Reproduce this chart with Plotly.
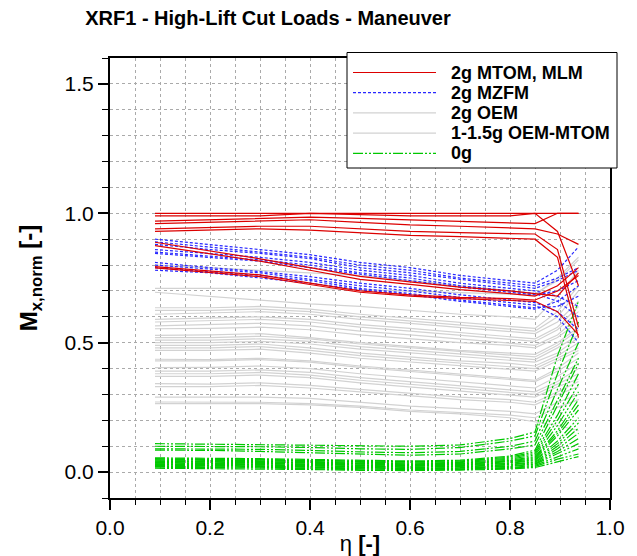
import plotly.graph_objects as go

ETA = [0.09, 0.2, 0.3, 0.4, 0.5, 0.6, 0.7, 0.8, 0.85, 0.895, 0.937]

RED_2G_MTOM = [
    [1.00, 1.00, 1.00, 1.00, 1.00, 1.00, 1.00, 1.00, 1.00, 1.00, 1.00],
    [0.99, 0.99, 0.99, 1.00, 0.995, 0.99, 0.99, 0.99, 1.00, 0.93, 0.72],
    [0.97, 0.975, 0.98, 0.985, 0.98, 0.975, 0.97, 0.965, 0.96, 1.00, 1.00],
    [0.96, 0.965, 0.97, 0.975, 0.965, 0.955, 0.95, 0.945, 0.94, 0.92, 0.88],
    [0.94, 0.945, 0.95, 0.95, 0.94, 0.93, 0.925, 0.92, 0.92, 0.86, 0.56],
    [0.93, 0.935, 0.94, 0.935, 0.925, 0.915, 0.91, 0.905, 0.90, 0.83, 0.52],
    [0.888, 0.855, 0.824, 0.79, 0.756, 0.735, 0.715, 0.70, 0.69, 0.68, 0.77],
    [0.875, 0.845, 0.815, 0.78, 0.745, 0.725, 0.705, 0.69, 0.68, 0.72, 0.79],
    [0.794, 0.778, 0.762, 0.73, 0.70, 0.685, 0.675, 0.67, 0.665, 0.70, 0.76],
    [0.789, 0.772, 0.755, 0.725, 0.695, 0.68, 0.67, 0.663, 0.66, 0.62, 0.53],
]

BLUE_2G_MZFM = [
    [0.90, 0.88, 0.86, 0.84, 0.81, 0.79, 0.76, 0.74, 0.73, 0.78, 0.87],
    [0.89, 0.87, 0.85, 0.83, 0.80, 0.78, 0.75, 0.73, 0.72, 0.75, 0.79],
    [0.88, 0.86, 0.845, 0.825, 0.79, 0.77, 0.745, 0.72, 0.71, 0.74, 0.78],
    [0.86, 0.845, 0.83, 0.81, 0.78, 0.76, 0.73, 0.71, 0.70, 0.68, 0.64],
    [0.85, 0.835, 0.82, 0.80, 0.77, 0.75, 0.72, 0.70, 0.69, 0.66, 0.60],
    [0.845, 0.83, 0.815, 0.79, 0.765, 0.74, 0.715, 0.695, 0.685, 0.70, 0.74],
    [0.81, 0.79, 0.775, 0.755, 0.73, 0.71, 0.685, 0.665, 0.655, 0.62, 0.55],
    [0.80, 0.785, 0.77, 0.745, 0.72, 0.70, 0.675, 0.655, 0.645, 0.60, 0.50],
    [0.79, 0.775, 0.76, 0.74, 0.71, 0.69, 0.665, 0.645, 0.635, 0.64, 0.68],
    [0.78, 0.77, 0.75, 0.73, 0.705, 0.685, 0.66, 0.64, 0.63, 0.66, 0.72],
]

GRAY_2G_OEM = [
    [0.71, 0.71, 0.71, 0.71, 0.705, 0.70, 0.695, 0.69, 0.685, 0.75, 0.83],
    [0.80, 0.79, 0.78, 0.77, 0.76, 0.74, 0.72, 0.70, 0.69, 0.74, 0.82],
    [0.695, 0.68, 0.665, 0.65, 0.64, 0.625, 0.61, 0.60, 0.59, 0.68, 0.78],
    [0.635, 0.635, 0.64, 0.63, 0.61, 0.595, 0.58, 0.565, 0.555, 0.62, 0.72],
    [0.625, 0.625, 0.63, 0.62, 0.60, 0.585, 0.57, 0.555, 0.545, 0.60, 0.70],
    [0.61, 0.615, 0.62, 0.61, 0.59, 0.575, 0.56, 0.545, 0.535, 0.58, 0.66],
    [0.59, 0.595, 0.60, 0.59, 0.57, 0.555, 0.54, 0.525, 0.515, 0.56, 0.64],
    [0.58, 0.585, 0.59, 0.58, 0.56, 0.545, 0.53, 0.515, 0.505, 0.55, 0.62],
    [0.565, 0.57, 0.575, 0.565, 0.545, 0.53, 0.515, 0.50, 0.49, 0.53, 0.60],
    [0.554, 0.555, 0.56, 0.55, 0.53, 0.515, 0.50, 0.49, 0.48, 0.52, 0.58],
]

GRAY_1G_OEM_MTOM = [
    [0.528, 0.53, 0.535, 0.52, 0.50, 0.485, 0.47, 0.46, 0.455, 0.50, 0.56],
    [0.52, 0.52, 0.525, 0.515, 0.495, 0.48, 0.465, 0.45, 0.445, 0.49, 0.55],
    [0.51, 0.51, 0.515, 0.505, 0.485, 0.47, 0.455, 0.44, 0.435, 0.48, 0.53],
    [0.50, 0.50, 0.505, 0.495, 0.475, 0.46, 0.445, 0.43, 0.425, 0.46, 0.52],
    [0.49, 0.49, 0.495, 0.48, 0.46, 0.445, 0.43, 0.42, 0.41, 0.45, 0.50],
    [0.48, 0.48, 0.485, 0.47, 0.45, 0.435, 0.42, 0.405, 0.40, 0.44, 0.48],
    [0.47, 0.47, 0.475, 0.46, 0.44, 0.425, 0.41, 0.395, 0.39, 0.43, 0.47],
    [0.436, 0.435, 0.44, 0.43, 0.41, 0.395, 0.38, 0.365, 0.355, 0.40, 0.46],
    [0.43, 0.43, 0.435, 0.425, 0.405, 0.39, 0.375, 0.36, 0.35, 0.39, 0.44],
    [0.404, 0.405, 0.41, 0.40, 0.38, 0.365, 0.35, 0.335, 0.325, 0.37, 0.42],
    [0.39, 0.39, 0.395, 0.385, 0.365, 0.35, 0.335, 0.32, 0.31, 0.35, 0.40],
    [0.38, 0.38, 0.385, 0.375, 0.355, 0.34, 0.325, 0.31, 0.30, 0.34, 0.38],
    [0.37, 0.37, 0.375, 0.365, 0.345, 0.33, 0.315, 0.30, 0.29, 0.33, 0.36],
    [0.342, 0.34, 0.345, 0.335, 0.32, 0.305, 0.29, 0.28, 0.27, 0.31, 0.35],
    [0.33, 0.33, 0.335, 0.325, 0.31, 0.295, 0.28, 0.27, 0.26, 0.30, 0.33],
    [0.29, 0.29, 0.29, 0.285, 0.27, 0.255, 0.245, 0.235, 0.225, 0.27, 0.30],
    [0.271, 0.27, 0.27, 0.265, 0.255, 0.24, 0.23, 0.22, 0.21, 0.25, 0.28],
    [0.265, 0.265, 0.265, 0.26, 0.25, 0.235, 0.225, 0.21, 0.195, 0.18, 0.16],
]

GREEN_0G = [
    [0.110, 0.108, 0.106, 0.104, 0.100, 0.100, 0.105, 0.130, 0.155, 0.45, 0.66],
    [0.100, 0.100, 0.098, 0.095, 0.090, 0.088, 0.095, 0.120, 0.140, 0.38, 0.58],
    [0.090, 0.090, 0.088, 0.084, 0.078, 0.075, 0.080, 0.100, 0.120, 0.32, 0.50],
    [0.085, 0.084, 0.080, 0.075, 0.068, 0.065, 0.070, 0.090, 0.105, 0.28, 0.44],
    [0.055, 0.054, 0.052, 0.049, 0.045, 0.043, 0.046, 0.062, 0.085, 0.26, 0.42],
    [0.052, 0.051, 0.049, 0.046, 0.042, 0.040, 0.043, 0.058, 0.078, 0.22, 0.38],
    [0.050, 0.049, 0.047, 0.044, 0.040, 0.038, 0.040, 0.054, 0.072, 0.20, 0.34],
    [0.047, 0.046, 0.044, 0.041, 0.037, 0.035, 0.037, 0.050, 0.066, 0.18, 0.31],
    [0.044, 0.043, 0.041, 0.038, 0.034, 0.032, 0.034, 0.046, 0.060, 0.16, 0.28],
    [0.042, 0.041, 0.039, 0.036, 0.032, 0.030, 0.032, 0.043, 0.056, 0.15, 0.26],
    [0.040, 0.039, 0.037, 0.034, 0.030, 0.028, 0.030, 0.040, 0.052, 0.14, 0.24],
    [0.037, 0.036, 0.034, 0.031, 0.027, 0.025, 0.027, 0.036, 0.048, 0.12, 0.21],
    [0.035, 0.034, 0.032, 0.029, 0.025, 0.023, 0.025, 0.034, 0.045, 0.11, 0.19],
    [0.032, 0.031, 0.029, 0.026, 0.022, 0.020, 0.022, 0.030, 0.040, 0.10, 0.17],
    [0.030, 0.029, 0.027, 0.024, 0.020, 0.018, 0.020, 0.028, 0.037, 0.09, 0.15],
    [0.027, 0.026, 0.024, 0.021, 0.017, 0.015, 0.017, 0.024, 0.033, 0.08, 0.13],
    [0.025, 0.024, 0.022, 0.019, 0.015, 0.013, 0.015, 0.022, 0.030, 0.07, 0.11],
    [0.022, 0.021, 0.019, 0.016, 0.012, 0.010, 0.012, 0.018, 0.026, 0.06, 0.09],
    [0.019, 0.018, 0.016, 0.013, 0.009, 0.008, 0.010, 0.015, 0.022, 0.05, 0.07],
    [0.015, 0.014, 0.012, 0.010, 0.007, 0.006, 0.008, 0.012, 0.018, 0.04, 0.06],
]

LEGEND_NAMES = ["2g MTOM, MLM", "2g MZFM", "2g OEM", "1-1.5g OEM-MTOM", "0g"]

RED = "rgb(220,0,0)"
BLUE = "rgb(40,40,255)"
GRAY = "rgb(210,210,210)"
GREEN = "rgb(0,200,0)"
GREEN_DASH = "10px,2px,2px,2px,2px,2px"
BLUE_DASH = "3px,2px"

GROUPS = [
    # drawing order: gray, green, blue, red
    (GRAY_2G_OEM, LEGEND_NAMES[2], GRAY, "solid"),
    (GRAY_1G_OEM_MTOM, LEGEND_NAMES[3], GRAY, "solid"),
    (GREEN_0G, LEGEND_NAMES[4], GREEN, GREEN_DASH),
    (BLUE_2G_MZFM, LEGEND_NAMES[1], BLUE, BLUE_DASH),
    (RED_2G_MTOM, LEGEND_NAMES[0], RED, "solid"),
]

fig = go.Figure()
for data, name, color, dash in GROUPS:
    for ys in data:
        fig.add_trace(go.Scatter(
            x=ETA, y=ys, mode="lines", name=name, legendgroup=name,
            showlegend=False,
            line=dict(color=color, width=1.2, dash=dash),
            hoverinfo="skip",
        ))

# ---- legend box drawn in paper coordinates (pixel layout -> paper) ----
L, R, T, B = 110, 610, 58, 498
def px(x):
    return (x - L) / (R - L)
def py(y):
    return (B - y) / (B - T)

fig.add_shape(type="rect", xref="paper", yref="paper",
              x0=px(347), x1=px(617), y0=py(168), y1=py(52.5),
              line=dict(color="black", width=1), fillcolor="white", layer="above")
legend_styles = [(RED, "solid"), (BLUE, BLUE_DASH), (GRAY, "solid"),
                 (GRAY, "solid"), (GREEN, GREEN_DASH)]
for i, (name, (color, dash)) in enumerate(zip(LEGEND_NAMES, legend_styles)):
    yrow = 72.5 + 20.2 * i
    fig.add_shape(type="line", xref="paper", yref="paper",
                  x0=px(353), x1=px(436), y0=py(yrow), y1=py(yrow),
                  line=dict(color=color, width=1.2, dash=dash), layer="above")
    fig.add_annotation(xref="paper", yref="paper", x=px(449), y=py(yrow),
                       xanchor="left", yanchor="middle", showarrow=False,
                       text="<b>%s</b>" % name,
                       font=dict(size=18, color="black"))

FONT = "Liberation Sans, Arial, Helvetica, sans-serif"
GRID = "rgb(170,170,170)"

fig.update_layout(
    width=637, height=556,
    margin=dict(l=110, r=27, t=58, b=58),
    paper_bgcolor="white", plot_bgcolor="white",
    font=dict(family=FONT, color="black"),
    showlegend=False,
    title=dict(text="<b>XRF1 - High-Lift Cut Loads - Maneuver</b>",
               x=268 / 637, xanchor="center", xref="container",
               y=1 - 18 / 556, yanchor="middle", yref="container",
               font=dict(family=FONT, size=20, color="black")),
    xaxis=dict(range=[0, 1], dtick=0.2, tick0=0, tickformat=".1f",
               automargin=False,
               showline=True, linecolor="black", linewidth=2, mirror=True,
               ticks="outside", ticklen=10, tickwidth=2, tickcolor="black",
               tickfont=dict(size=21),
               showgrid=True, gridcolor=GRID, griddash="dot", gridwidth=1,
               zeroline=False,
               minor=dict(dtick=0.05, ticks="outside", ticklen=5, tickwidth=1,
                          tickcolor="black", showgrid=True, gridcolor=GRID,
                          griddash="dot", gridwidth=1),
               title=dict(text="η <b>[-]</b>", font=dict(size=22), standoff=8)),
    yaxis=dict(range=[-0.1, 1.6], dtick=0.5, tick0=0, tickformat=".1f",
               automargin=False,
               showline=True, linecolor="black", linewidth=2, mirror=True,
               ticks="outside", ticklen=10, tickwidth=2, tickcolor="black",
               tickfont=dict(size=21),
               showgrid=True, gridcolor=GRID, griddash="dot", gridwidth=1,
               zeroline=False,
               minor=dict(dtick=0.1, ticks="outside", ticklen=6, tickwidth=1,
                          tickcolor="black", showgrid=True, gridcolor=GRID,
                          griddash="dot", gridwidth=1),
               title=dict(text="<b>M<sub>x,norm</sub> [-]</b>",
                          font=dict(size=24), standoff=20)),
)

fig.write_html("out.html")
